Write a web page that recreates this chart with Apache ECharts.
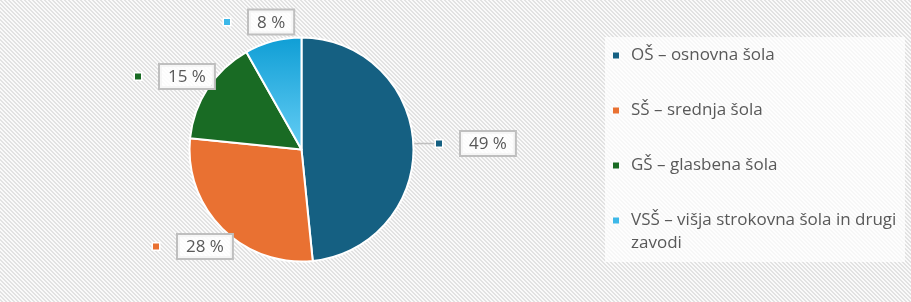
<!DOCTYPE html>
<html><head><meta charset="utf-8">
<script src="https://cdn.jsdelivr.net/npm/echarts@6/dist/echarts.min.js"></script>
<style>html,body{margin:0;padding:0;background:#fff;}#c{width:911px;height:302px;}</style>
</head><body><div id="c"></div>
<script>
const categories = ['OŠ – osnovna šola', 'SŠ – srednja šola', 'GŠ – glasbena šola', 'VSŠ – višja strokovna šola in drugi zavodi'];
const legendLines = [['OŠ – osnovna šola'], ['SŠ – srednja šola'], ['GŠ – glasbena šola'], ['VSŠ – višja strokovna šola in drugi', 'zavodi']];
// slice shares as measured from the slice angles in the picture
const values = [48.4, 28.2, 15.2, 8.2];
// percentage labels as printed in the picture
const valueLabels = ['49 %', '28 %', '15 %', '8 %'];
const colors = ['#156082', '#E97132', '#196B24', '#0F9ED5'];
const labelAnchors = [[436, 143.5], [153, 246.5], [135, 76.5], [224, 22]];

// striped background pattern
const pc = document.createElement('canvas'); pc.width = 4; pc.height = 4;
const pctx = pc.getContext('2d');
const img = pctx.createImageData(4, 4);
for (let y = 0; y < 4; y++) for (let x = 0; x < 4; x++) {
  const k = ((x - y) % 4 + 4) % 4;
  const g = k < 2 ? 0xe2 : 0xfa;
  const i = (y * 4 + x) * 4;
  img.data[i] = g; img.data[i + 1] = g; img.data[i + 2] = g; img.data[i + 3] = 255;
}
pctx.putImageData(img, 0, 0);

const font = '"Open Sans", "Noto Sans", sans-serif';
const textColor = '#595959';
const lightBlueGrad = new echarts.graphic.LinearGradient(0, 0, 0, 1, [
  { offset: 0, color: '#0F9ED5' }, { offset: 1, color: '#66CEF5' }
]);

const rich = {
  gap: { width: 19 },
  box: {
    color: textColor, fontSize: 17, fontFamily: font,
    borderColor: '#bfbfbf', borderWidth: 2, backgroundColor: 'rgba(255,255,255,0.85)',
    padding: [4, 8, 2, 8], lineHeight: 21
  }
};
colors.forEach((c, i) => {
  rich['s' + i] = { width: 6, height: 6, backgroundColor: i === 3 ? '#3DB8E8' : c, borderColor: '#fff', borderWidth: 1.5 };
});

const data = categories.map((n, i) => ({
  name: n,
  value: values[i],
  itemStyle: { color: i === 3 ? lightBlueGrad : colors[i] },
  label: { formatter: '{s' + i + '|}{gap|}{box|' + valueLabels[i] + '}' },
  labelLine: { show: i === 0 }
}));

const chart = echarts.init(document.getElementById('c'), null, { renderer: 'canvas' });
chart.setOption({
  backgroundColor: { image: pc, repeat: 'repeat' },
  animation: false,
  graphic: [{
    type: 'rect', left: 605, top: 37, silent: true, z: -1,
    shape: { width: 300, height: 225 },
    style: { fill: 'rgba(255,255,255,0.72)' }
  }],
  legend: {
    orient: 'vertical', left: 608, top: 44, padding: 0,
    icon: 'none', itemWidth: 0, itemHeight: 10, itemGap: 32,
    selectedMode: false,
    data: categories,
    formatter: function (name) {
      const i = categories.indexOf(name);
      const lines = legendLines[i];
      let s = '{s' + i + '|}{sp|}' + lines[0];
      for (let k = 1; k < lines.length; k++) s += '\n{sp2|}' + lines[k];
      return s;
    },
    textStyle: {
      color: textColor, fontSize: 17, fontFamily: font, lineHeight: 23,
      rich: {
        s0: { width: 6, height: 6, backgroundColor: colors[0] },
        s1: { width: 6, height: 6, backgroundColor: colors[1] },
        s2: { width: 6, height: 6, backgroundColor: colors[2] },
        s3: { width: 6, height: 6, backgroundColor: '#3DB8E8' },
        sp: { width: 12 },
        sp2: { width: 18 }
      }
    }
  },
  series: [{
    type: 'pie',
    center: [301.5, 149.5],
    radius: 112,
    startAngle: 90,
    clockwise: true,
    itemStyle: { borderColor: '#ffffff', borderWidth: 2 },
    label: { show: true, position: 'outside', rich: rich },
    labelLine: { show: false, length: 10, length2: 15, lineStyle: { color: '#bfbfbf', width: 1.5 } },
    labelLayout: function (p) {
      const a = labelAnchors[p.dataIndex];
      return { x: a[0], y: a[1], align: 'left', verticalAlign: 'middle' };
    },
    emphasis: { disabled: true },
    data: data
  }]
});
</script></body></html>
